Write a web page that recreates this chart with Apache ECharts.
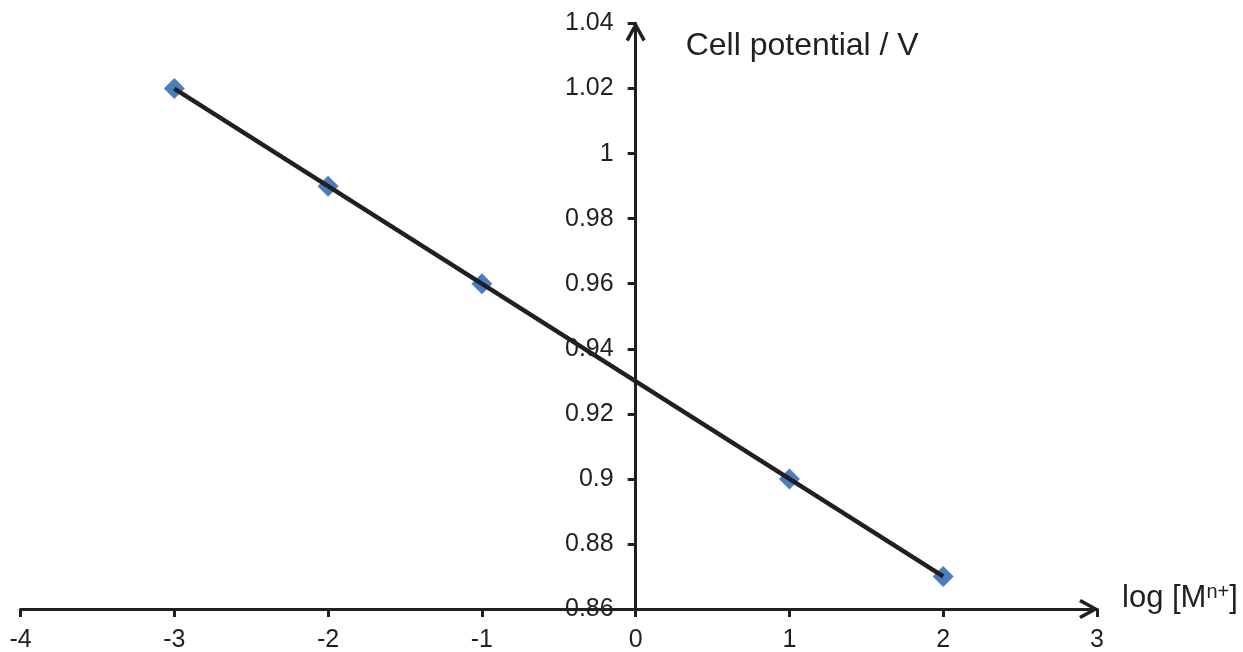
<!DOCTYPE html>
<html>
<head>
<meta charset="utf-8">
<script src="https://cdn.jsdelivr.net/npm/echarts@6/dist/echarts.min.js"></script>
<style>
  html, body { margin: 0; padding: 0; background: #fff; }
  #chart { width: 1243px; height: 652px; }
</style>
</head>
<body>
<div id="chart"></div>
<script>
// log [M^n+] and cell potential (V)
const logConc = [-3, -2, -1, 1, 2];
const potential = [1.02, 0.99, 0.96, 0.90, 0.87];
// fitted line end points
const fitX = [-3, 2];
const fitY = [1.02, 0.87];

const xMin = -4, xMax = 3;
const ink = "#231f20";
const font = "Liberation Sans, Arial, sans-serif";
// open chevron pointing up (rotated by echarts along the axis)
const chevron = "path://M0,18 L10,0 L20,18 L17,20 L10,7 L3,20 Z";

const W = 1243;
const gridLeft = 20.5, gridRight = 146;
// move the y axis (with its labels) to x = 0
const yOffset = -((W - gridLeft - gridRight) * (0 - xMin)) / (xMax - xMin);

const chart = echarts.init(document.getElementById("chart"));
const option = {
  animation: false,
  grid: { left: gridLeft, right: gridRight, top: 23.5, bottom: 43, outerBoundsMode: "none", containLabel: false },
  xAxis: {
    type: "value",
    min: xMin,
    max: xMax,
    interval: 1,
    name: "log [M{sup|n+}]",
    nameLocation: "end",
    nameGap: 25,
    nameTextStyle: {
      color: ink,
      fontFamily: font,
      fontSize: 31,
      align: "left",
      verticalAlign: "middle",
      padding: [0, 0, 22, 0],
      rich: {
        sup: { fontSize: 20, color: ink, fontFamily: font, verticalAlign: "top", padding: [0, 0, 12, 0] },
      },
    },
    axisLine: {
      lineStyle: { color: ink, width: 3 },
      symbol: ["none", chevron],
      symbolSize: [22, 20],
      symbolOffset: [0, -8],
    },
    axisTick: { show: true, length: 8, lineStyle: { color: ink, width: 3 } },
    axisLabel: { color: ink, fontFamily: font, fontSize: 25, margin: 19 },
    splitLine: { show: false },
  },
  yAxis: {
    type: "value",
    min: 0.86,
    max: 1.04,
    interval: 0.02,
    offset: yOffset,
    name: "Cell potential / V",
    nameLocation: "end",
    nameGap: -23,
    nameTextStyle: {
      color: ink,
      fontFamily: font,
      fontSize: 32,
      align: "left",
      verticalAlign: "middle",
      padding: [0, 0, 0, 50],
    },
    axisLine: {
      onZero: false,
      lineStyle: { color: ink, width: 3 },
      symbol: ["none", chevron],
      symbolSize: [22, 20],
      symbolOffset: [0, -8],
    },
    axisTick: { show: true, length: 8, lineStyle: { color: ink, width: 3 } },
    axisLabel: { color: ink, fontFamily: font, fontSize: 25, margin: 22 },
    splitLine: { show: false },
  },
  series: [
    {
      type: "scatter",
      data: logConc.map((x, i) => [x, potential[i]]),
      symbol: "diamond",
      symbolSize: 21,
      itemStyle: { color: "#4a7ebf", opacity: 1 },
      z: 2,
    },
    {
      type: "line",
      data: fitX.map((x, i) => [x, fitY[i]]),
      showSymbol: false,
      lineStyle: { color: ink, width: 4.5 },
      z: 3,
    },
  ],
};
chart.setOption(option);
</script>
</body>
</html>
